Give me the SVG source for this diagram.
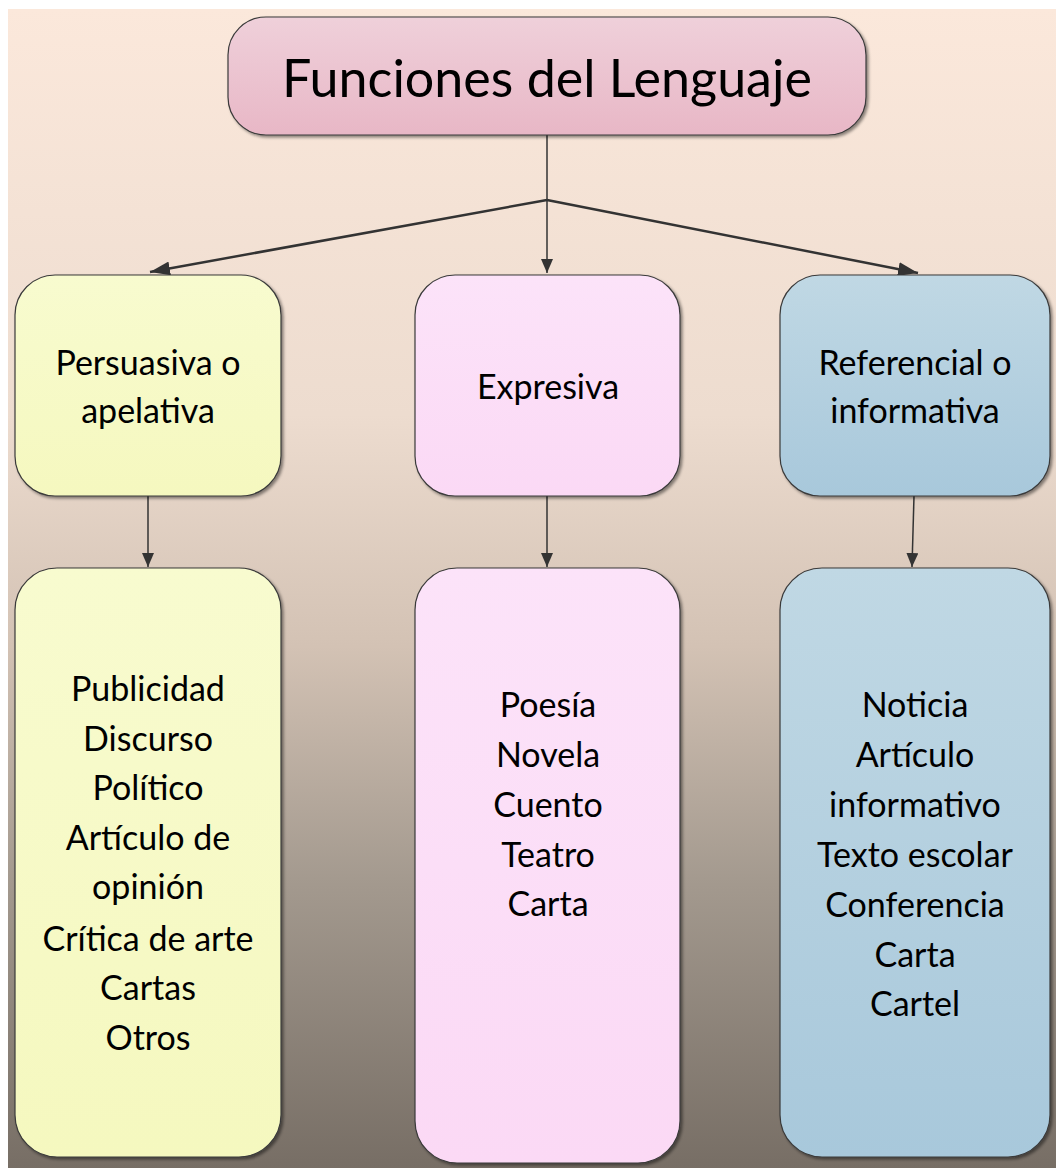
<svg xmlns="http://www.w3.org/2000/svg" width="1056" height="1171" viewBox="0 0 1056 1171">
<style>
.t{font-family:Lato,"Open Sans","Liberation Sans",sans-serif;fill:#000;text-anchor:middle}
.b{font-size:34px}
.box{stroke:#3a3a3a;stroke-width:1.2}
.c{stroke:#333;fill:none}
</style>
<defs>
<linearGradient id="bg" x1="0" y1="0" x2="0" y2="1">
<stop offset="0" stop-color="#fbe8db"/>
<stop offset="0.35" stop-color="#eddccf"/>
<stop offset="0.55" stop-color="#d3c2b4"/>
<stop offset="0.75" stop-color="#a49a8f"/>
<stop offset="1" stop-color="#776e65"/>
</linearGradient>
<linearGradient id="gTop" x1="0" y1="0" x2="0" y2="1"><stop offset="0" stop-color="#efd0da"/><stop offset="1" stop-color="#e8b7c6"/></linearGradient>
<linearGradient id="gY" x1="0" y1="0" x2="0" y2="1"><stop offset="0" stop-color="#f8fbcf"/><stop offset="1" stop-color="#f5f8bf"/></linearGradient>
<linearGradient id="gP" x1="0" y1="0" x2="0" y2="1"><stop offset="0" stop-color="#fce3f9"/><stop offset="1" stop-color="#fbd9f5"/></linearGradient>
<linearGradient id="gB" x1="0" y1="0" x2="0" y2="1"><stop offset="0" stop-color="#c0d8e4"/><stop offset="1" stop-color="#a8c8db"/></linearGradient>
<filter id="sh" x="-10%" y="-10%" width="120%" height="120%"><feDropShadow dx="2" dy="2" stdDeviation="1.5" flood-color="#000" flood-opacity="0.45"/></filter>
<marker id="ah" viewBox="0 0 14 12" refX="14" refY="6" markerWidth="14" markerHeight="12" markerUnits="userSpaceOnUse" orient="auto"><path d="M0,0 L14,6 L0,12 z" fill="#333"/></marker>
<marker id="ah2" viewBox="0 0 20 14" refX="20" refY="7" markerWidth="20" markerHeight="14" markerUnits="userSpaceOnUse" orient="auto"><path d="M0,0 L20,7 L0,14 z" fill="#333"/></marker>
</defs>
<rect x="0" y="0" width="1056" height="1171" fill="#fff"/>
<rect x="8" y="9" width="1048" height="1159" fill="url(#bg)"/>

<g id="connectors">
<line class="c" x1="547" y1="135" x2="547" y2="200" stroke-width="1.5"/>
<line class="c" x1="547" y1="200" x2="547" y2="273" stroke-width="1.5" marker-end="url(#ah)"/>
<line class="c" x1="547" y1="200" x2="150" y2="272" stroke-width="2.5" marker-end="url(#ah2)"/>
<line class="c" x1="547" y1="200" x2="918" y2="273" stroke-width="2.5" marker-end="url(#ah2)"/>
<line class="c" x1="148" y1="496" x2="148" y2="567" stroke-width="1.5" marker-end="url(#ah)"/>
<line class="c" x1="547" y1="496" x2="547" y2="567" stroke-width="1.5" marker-end="url(#ah)"/>
<line class="c" x1="914" y1="496" x2="912" y2="567" stroke-width="1.5" marker-end="url(#ah)"/>
</g>

<g id="n-title">
<rect class="box" x="228" y="17" width="638" height="118" rx="38" fill="url(#gTop)" filter="url(#sh)"/>
<text class="t" x="547" y="97" font-size="52">Funciones del Lenguaje</text>
</g>

<g id="n-persuasiva">
<rect class="box" x="15" y="275" width="266" height="221" rx="40" fill="url(#gY)" filter="url(#sh)"/>
<text class="t b" x="148" y="375">Persuasiva o</text>
<text class="t b" x="148" y="423">apelativa</text>
</g>

<g id="n-expresiva">
<rect class="box" x="415" y="275" width="265" height="221" rx="40" fill="url(#gP)" filter="url(#sh)"/>
<text class="t b" x="548" y="399">Expresiva</text>
</g>

<g id="n-referencial">
<rect class="box" x="780" y="275" width="270" height="221" rx="40" fill="url(#gB)" filter="url(#sh)"/>
<text class="t b" x="915" y="375">Referencial o</text>
<text class="t b" x="915" y="423">informativa</text>
</g>

<g id="n-persuasiva-ej">
<rect class="box" x="15" y="568" width="266" height="589" rx="42" fill="url(#gY)" filter="url(#sh)"/>
<text class="t b" x="148" y="701">Publicidad</text>
<text class="t b" x="148" y="751">Discurso</text>
<text class="t b" x="148" y="800">Político</text>
<text class="t b" x="148" y="850">Artículo de</text>
<text class="t b" x="148" y="899">opinión</text>
<text class="t b" x="148" y="951">Crítica de arte</text>
<text class="t b" x="148" y="1000">Cartas</text>
<text class="t b" x="148" y="1050">Otros</text>
</g>

<g id="n-expresiva-ej">
<rect class="box" x="415" y="568" width="265" height="595" rx="42" fill="url(#gP)" filter="url(#sh)"/>
<text class="t b" x="548" y="717">Poesía</text>
<text class="t b" x="548" y="767">Novela</text>
<text class="t b" x="548" y="817">Cuento</text>
<text class="t b" x="548" y="867">Teatro</text>
<text class="t b" x="548" y="916">Carta</text>
</g>

<g id="n-referencial-ej">
<rect class="box" x="780" y="568" width="270" height="589" rx="42" fill="url(#gB)" filter="url(#sh)"/>
<text class="t b" x="915" y="717">Noticia</text>
<text class="t b" x="915" y="767">Artículo</text>
<text class="t b" x="915" y="817">informativo</text>
<text class="t b" x="915" y="867">Texto escolar</text>
<text class="t b" x="915" y="917">Conferencia</text>
<text class="t b" x="915" y="967">Carta</text>
<text class="t b" x="915" y="1016">Cartel</text>
</g>
</svg>
